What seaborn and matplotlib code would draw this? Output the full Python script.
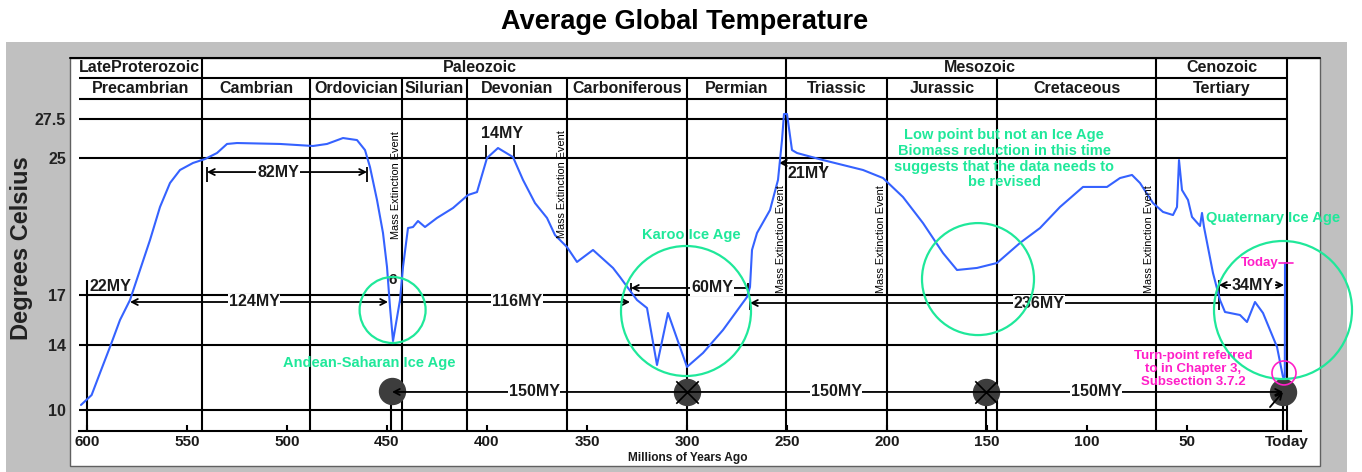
import numpy as np
import pandas as pd
import matplotlib
matplotlib.use("Agg")
import matplotlib.pyplot as plt
import seaborn as sns
from matplotlib.patches import Rectangle
from matplotlib.lines import Line2D

# ---------------- data ----------------
my_ago = [603, 597.7, 593.5, 588.5, 583.5, 578.5, 573.5, 568.5, 563.5, 558.5,
          553.5, 547, 541, 535, 530, 525, 503.5, 487, 480, 472,
          465, 461, 458.5, 455, 452, 450, 448.5, 447, 443.5, 442,
          439.5, 437, 434.5, 431, 425, 417, 409.5, 405, 400, 394.5,
          387, 382, 376, 370, 366, 360, 355, 347, 337, 333.5,
          329.5, 325, 320, 315, 309.5, 300, 292, 282, 270, 268.5,
          267.5, 265, 258.5, 254.5, 252.5, 251.5, 250, 247.5, 245, 232,
          212, 202, 192, 182, 172, 165, 155, 145, 133.5, 123.5,
          113.5, 102, 90, 83.5, 77.5, 73.5, 67, 62, 57, 55,
          54, 52.5, 49.5, 47.5, 43.5, 42.5, 41.5, 37, 33.5, 31,
          23.5, 20, 16, 12, 5, 2, 1.1, 1.0]
temp_c = [10.31, 10.92, 12.28, 13.88, 15.5, 16.7, 18.46, 20.21, 22.14, 23.54,
          24.30, 24.71, 24.94, 25.32, 25.90, 25.96, 25.90, 25.77, 25.90, 26.28,
          26.15, 25.51, 24.47, 22.55, 20.62, 18.64, 16.28, 14.24, 16.7, 18.64,
          20.91, 20.97, 21.32, 20.97, 21.50, 22.08, 22.84, 23.01, 25.0, 25.64,
          25.06, 23.72, 22.37, 21.50, 20.50, 19.80, 18.93, 19.63, 18.58, 18.05,
          17.41, 16.7, 16.22, 12.77, 15.92, 12.65, 13.51, 14.9, 16.88, 17.47,
          19.63, 20.62, 21.96, 23.72, 26.15, 27.82, 27.82, 25.51, 25.32, 24.88,
          24.30, 23.83, 22.72, 21.20, 19.45, 18.46, 18.58, 18.87, 20.04, 20.91,
          22.14, 23.31, 23.31, 23.83, 24.01, 23.54, 22.37, 21.85, 21.67, 22.14,
          24.88, 23.13, 22.55, 21.56, 21.03, 21.79, 20.97, 18.28, 16.7, 15.98,
          15.8, 15.38, 16.58, 15.92, 13.88, 12.03, 12.03, 18.87]

temp_ticks = [10, 14, 17, 25, 27.5]
temp_tick_labels = ["10", "14", "17", "25", "27.5"]
x_ticks = [600, 550, 500, 450, 400, 350, 300, 250, 200, 150, 100, 50, 0]
x_tick_labels = ["600", "550", "500", "450", "400", "350", "300", "250",
                 "200", "150", "100", "50", "Today"]

period_bounds = [542.5, 488.5, 442.5, 410, 360, 300, 250.5, 200, 145, 65.5, 0]
era_bounds = [542.5, 250.5, 65.5, 0]
period_names = ["Precambrian", "Cambrian", "Ordovician", "Silurian", "Devonian",
                "Carboniferous", "Permian", "Triassic", "Jurassic", "Cretaceous",
                "Tertiary"]
era_names = ["LateProterozoic", "Paleozoic", "Mesozoic", "Cenozoic"]
era_label_x = [574, 403.5, 153.5, 32.5]

extinction_my = [445.5, 362.5, 253, 203, 69]
extinction_base = [20.27, 20.33, 17.12, 17.12, 17.12]

marker_my = [447.5, 300, 150.5, 2]
marker_t = [11.2, 11.11, 11.11, 11.11]

ice_my = [447.2, 300.5, 154.5, 2]
ice_t = [16.1, 16.04, 17.93, 16.1]
ice_r_px = [33, 65, 56, 69]

# ---------------- style ----------------
sns.set_theme(style="white")
plt.rcParams["font.family"] = ["Liberation Sans", "DejaVu Sans"]

BLUE = "#3562ff"
GREEN = "#1fe89a"
PINK = "#ff1fc8"
INK = "#1a1a1a"

W, H = 1362, 472
fig = plt.figure(figsize=(W / 100, H / 100), dpi=100)
fig.patch.set_facecolor("white")


def fx(px):
    return px / W


def fy(py):
    return 1 - py / H


fig.patches.append(Rectangle((fx(6), 0), fx(1347) - fx(6), fy(42),
                             transform=fig.transFigure, fc="#c0c0c0", ec="none", zorder=-3))
fig.patches.append(Rectangle((fx(70), fy(466)), fx(1320) - fx(70), fy(58) - fy(466),
                             transform=fig.transFigure, fc="white", ec="#606060", lw=1, zorder=-2))
fig.lines.append(Line2D([fx(70), fx(1320)], [fy(58), fy(58)], transform=fig.transFigure,
                        color="black", lw=1.5))

ax = fig.add_axes([fx(79), fy(431), fx(1301) - fx(79), fy(58) - fy(431)])
ax.patch.set_alpha(0)

# piecewise y scale matching the unevenly spaced temperature lines
T_KN = np.array([-100, 10, 14, 17, 25, 27.5, 100.0])
H_KN = np.array([21 - 110 * 16.25, 21, 86, 136, 273, 312, 312 + 72.5 * 15.6])


def fwd(t):
    return np.interp(t, T_KN, H_KN)


def inv(h):
    return np.interp(h, H_KN, T_KN)


ax.set_yscale("function", functions=(fwd, inv))

# ---------------- curve ----------------
df = pd.DataFrame({"my": my_ago, "temp": temp_c})
sns.lineplot(data=df, x="my", y="temp", sort=False, estimator=None,
             color=BLUE, lw=1.5, ax=ax, zorder=5)
ax.set_xlabel("")
ax.set_ylabel("")
YMIN, YMAX = float(inv(0)), float(inv(373))
ax.set_xlim(604, -7)
ax.set_ylim(YMIN, YMAX)

# ---------------- grid / table ----------------
ax.hlines(temp_ticks, 604, 0, color="black", lw=1.5, zorder=2)
xt = ax.get_xaxis_transform()
ROW1, ROW2, MID1, MID2 = 0.9464, 0.8901, 0.9732, 0.9169
ax.hlines([ROW1, ROW2], 604, 0, transform=xt, color="black", lw=1.5, zorder=2)
for b in period_bounds:
    top = 1.0 if b in era_bounds else ROW1
    ax.vlines(b, 0, top, transform=xt, color="black", lw=1.5, zorder=2)

edges = [604] + period_bounds
for i, name in enumerate(period_names):
    ax.text((edges[i] + edges[i + 1]) / 2, MID2, name, transform=xt, ha="center", va="center",
            fontsize=11.5, fontweight="bold", color=INK)
for x, name in zip(era_label_x, era_names):
    ax.text(x, MID1, name, transform=xt, ha="center", va="center",
            fontsize=11.5, fontweight="bold", color=INK)

# ---------------- axes ----------------
for s in ["left", "top", "right"]:
    ax.spines[s].set_visible(False)
ax.spines["bottom"].set_color("black")
ax.spines["bottom"].set_linewidth(1.5)
ax.set_xticks(x_ticks, labels=x_tick_labels)
ax.tick_params(axis="x", direction="in", length=4, width=1.5, color="black", pad=3,
               labelsize=11, labelcolor=INK, bottom=True)
ax.set_yticks(temp_ticks, labels=temp_tick_labels)
ax.tick_params(axis="y", length=0, pad=9.4, labelsize=11.5, labelcolor="#222222")
ax.minorticks_off()
for lab in ax.get_xticklabels() + ax.get_yticklabels():
    lab.set_fontweight("bold")

fig.text(fx(685), fy(22), "Average Global Temperature", ha="center", va="center",
         fontsize=19.5, fontweight="bold", color="black")
fig.text(fx(22), fy(248), "Degrees Celsius", rotation=90, ha="center", va="center",
         fontsize=17, fontweight="bold", color="#222222")
fig.text(fx(688), fy(458), "Millions of Years Ago", ha="center", va="center",
         fontsize=8.6, fontweight="bold", color=INK)

# ---------------- annotations ----------------
for x, y in zip(extinction_my, extinction_base):
    ax.text(x, y, "Mass Extinction Event", rotation=90, ha="center", va="bottom",
            fontsize=7.8, color="black", zorder=6)


def arrow(x0, x1, y, style, z=4):
    ax.annotate("", xy=(x1, y), xytext=(x0, y),
                arrowprops=dict(arrowstyle=style + ",head_length=0.35,head_width=0.18",
                                lw=1.3, color="black", shrinkA=0, shrinkB=0), zorder=z)


def label(x, y, s, box=True, **kw):
    bb = dict(boxstyle="square,pad=0.06", fc="white", ec="none") if box else None
    opts = dict(ha="center", va="center", fontsize=11.5, fontweight="bold", color=INK,
                zorder=6, bbox=bb)
    opts.update(kw)
    ax.text(x, y, s, **opts)


# 82MY
arrow(540, 460, 24.18, "<->")
ax.vlines([540, 460], 23.6, 24.47, color="black", lw=1.3)
label(504.5, 24.18, "82MY")
# 14MY
ax.vlines([400.5, 386.5], 25.0, 25.83, color="black", lw=1.3)
label(392.5, 26.6, "14MY", box=False)
# 21MY
arrow(254, 232.5, 24.71, "<-")
ax.vlines(232.5, 24.3, 24.71, color="black", lw=1.3)
label(249.5, 24.07, "21MY", box=False, ha="left")
# 22MY
ax.vlines(600, YMIN, 17.88, color="black", lw=1.5, zorder=2)
label(599, 17.47, "22MY", box=False, ha="left")
# 124MY / 116MY
arrow(578.5, 449.5, 16.58, "<->")
label(516.5, 16.58, "124MY")
label(447, 17.88, "6", box=False, fontsize=11)
arrow(443, 328.5, 16.58, "->")
label(385, 16.58, "116MY")
# 60MY
arrow(328, 269.5, 17.41, "<-")
ax.vlines([328, 269.5], 17.12, 17.7, color="black", lw=1.3)
label(287.5, 17.41, "60MY")
# 236MY
arrow(268.5, 34, 16.52, "<-")
ax.vlines(268.5, 16.1, 16.76, color="black", lw=1.3)
label(124, 16.52, "236MY")
# 34MY
arrow(34, 1.5, 17.58, "<->")
ax.vlines(34, 16.1, 17.88, color="black", lw=1.3)
label(17, 17.58, "34MY", box=True)

# 150MY cycle
ax.vlines([448.2, 150.5, 2], YMIN, 11.11, color="black", lw=1.5, zorder=3)
ax.scatter(marker_my, marker_t, s=350, color="#3d3d3d", edgecolor="#3d3d3d", zorder=6,
           clip_on=False)
arrow(447.5, 2, 11.11, "<->", z=7)
ax.annotate("", xy=(2, 11.11), xytext=(8.5, 10.18),
            arrowprops=dict(arrowstyle="->,head_length=0.35,head_width=0.18", lw=1.3,
                            color="black", shrinkA=0, shrinkB=0), zorder=7)
ax.scatter([300, 150.5], [11.11, 11.11], marker="x", s=260, color="black", lw=1.2, zorder=7)
for x in [376.5, 225.5, 95.5]:
    label(x, 11.11, "150MY", zorder=8)

# ice age circles
sizes = [(2 * r * 0.72) ** 2 for r in ice_r_px]
ax.scatter(ice_my, ice_t, s=sizes, facecolor="none", edgecolor=GREEN, lw=1.6, zorder=8,
           clip_on=False)
ax.scatter([1.5], [12.28], s=(2 * 12 * 0.72) ** 2, facecolor="none", edgecolor=PINK, lw=1.2,
           zorder=8, clip_on=False)

gkw = dict(ha="center", va="center", fontsize=10.5, fontweight="bold", color=GREEN, zorder=7)
ax.text(459, 12.89, "Andean-Saharan Ice Age", **gkw)
ax.text(298, 20.5, "Karoo Ice Age", **gkw)
ax.text(141.5, 24.97, "Low point but not an Ice Age\nBiomass reduction in this time\n"
        "suggests that the data needs to\nbe revised", linespacing=1.18, **gkw)
ax.text(7, 21.5, "Quaternary Ice Age", **gkw)

pkw = dict(fontsize=9.5, fontweight="bold", color=PINK, zorder=7)
ax.text(4.2, 18.87, "Today", ha="right", va="center", **pkw)
ax.plot([4, -3], [18.87, 18.87], color=PINK, lw=1.2, zorder=7)
ax.text(47, 12.52, "Turn-point referred\nto in Chapter 3,\nSubsection 3.7.2", ha="center",
        va="center", linespacing=1.15, **pkw)

fig.savefig("out.png", dpi=100)
